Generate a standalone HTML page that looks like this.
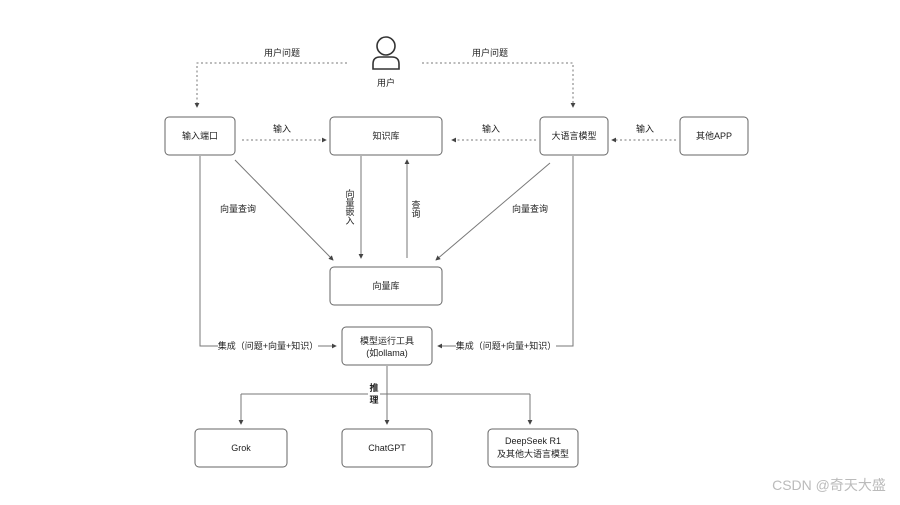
<!DOCTYPE html>
<html><head><meta charset="utf-8"><style>
body{margin:0;background:#fff;width:900px;height:500px;overflow:hidden}
svg text{font-family:"Liberation Sans","Noto Sans CJK SC",sans-serif;font-size:9px;fill:#222}
</style></head><body>
<svg width="900" height="500" viewBox="0 0 900 500" xmlns="http://www.w3.org/2000/svg">
<defs><marker id="a" viewBox="0 0 6 6" refX="5" refY="3" markerWidth="5" markerHeight="5" orient="auto"><path d="M0,0 L6,3 L0,6z" fill="#444"/></marker></defs>
<g fill="none" stroke="#333" stroke-width="1.6">
<circle cx="386" cy="46" r="9"/>
<path d="M373,69 L373,64 Q373,57 380,57 L392,57 Q399,57 399,64 L399,69 Z"/>
</g>
<text x="386" y="86" text-anchor="middle">用户</text>
<g fill="none" stroke="#777" stroke-width="1" stroke-dasharray="2,2.5">
<path d="M347,63 H197 V107" marker-end="url(#a)"/>
<path d="M422,63 H573 V107" marker-end="url(#a)"/>
<path d="M242,140 H326" marker-end="url(#a)"/>
<path d="M536,140 H452" marker-end="url(#a)"/>
<path d="M676,140 H612" marker-end="url(#a)"/>
</g>
<text x="282" y="56" text-anchor="middle">用户问题</text>
<text x="490" y="56" text-anchor="middle">用户问题</text>
<text x="282" y="132" text-anchor="middle">输入</text>
<text x="491" y="132" text-anchor="middle">输入</text>
<text x="645" y="132" text-anchor="middle">输入</text>
<g fill="#fff" stroke="#666" stroke-width="1">
<rect x="165" y="117" width="70" height="38" rx="4"/>
<rect x="330" y="117" width="112" height="38" rx="4"/>
<rect x="540" y="117" width="68" height="38" rx="4"/>
<rect x="680" y="117" width="68" height="38" rx="4"/>
<rect x="330" y="267" width="112" height="38" rx="4"/>
<rect x="342" y="327" width="90" height="38" rx="4"/>
<rect x="195" y="429" width="92" height="38" rx="4"/>
<rect x="342" y="429" width="90" height="38" rx="4"/>
<rect x="488" y="429" width="90" height="38" rx="4"/>
</g>
<text x="200" y="139" text-anchor="middle">输入端口</text>
<text x="386" y="139" text-anchor="middle">知识库</text>
<text x="574" y="139" text-anchor="middle">大语言模型</text>
<text x="714" y="139" text-anchor="middle">其他APP</text>
<text x="386" y="289" text-anchor="middle">向量库</text>
<text x="387" y="344" text-anchor="middle">模型运行工具</text>
<text x="387" y="356" text-anchor="middle">(如ollama)</text>
<text x="241" y="451" text-anchor="middle">Grok</text>
<text x="387" y="451" text-anchor="middle">ChatGPT</text>
<text x="533" y="444" text-anchor="middle">DeepSeek R1</text>
<text x="533" y="457" text-anchor="middle">及其他大语言模型</text>
<g fill="none" stroke="#777" stroke-width="1">
<path d="M235,160 L333,260" marker-end="url(#a)"/>
<path d="M550,163 L436,260" marker-end="url(#a)"/>
<path d="M361,156 V258" marker-end="url(#a)"/>
<path d="M407,258 V160" marker-end="url(#a)"/>
<path d="M200,156 V346 H218"/>
<path d="M318,346 H336" marker-end="url(#a)"/>
<path d="M573,156 V346 H556"/>
<path d="M456,346 H438" marker-end="url(#a)"/>
<path d="M387,366 V424" marker-end="url(#a)"/>
<path d="M241,394 H530"/>
<path d="M241,394 V424" marker-end="url(#a)"/>
<path d="M530,394 V424" marker-end="url(#a)"/>
</g>
<rect x="368" y="384" width="12" height="24" fill="#fff"/>
<text x="374" y="391" text-anchor="middle" font-weight="bold">推</text>
<text x="374" y="403" text-anchor="middle" font-weight="bold">理</text>
<text x="238" y="212" text-anchor="middle">向量查询</text>
<text x="530" y="212" text-anchor="middle">向量查询</text>
<text x="350" y="197" text-anchor="middle">向</text>
<text x="350" y="206" text-anchor="middle">量</text>
<text x="350" y="215" text-anchor="middle">嵌</text>
<text x="350" y="224" text-anchor="middle">入</text>
<text x="416" y="208" text-anchor="middle">查</text>
<text x="416" y="217" text-anchor="middle">询</text>
<text x="268" y="349" text-anchor="middle">集成（问题+向量+知识）</text>
<text x="506" y="349" text-anchor="middle">集成（问题+向量+知识）</text>
<text x="829" y="490" text-anchor="middle" style="font-size:14px;fill:#bbb">CSDN @奇天大盛</text>
</svg>
</body></html>
